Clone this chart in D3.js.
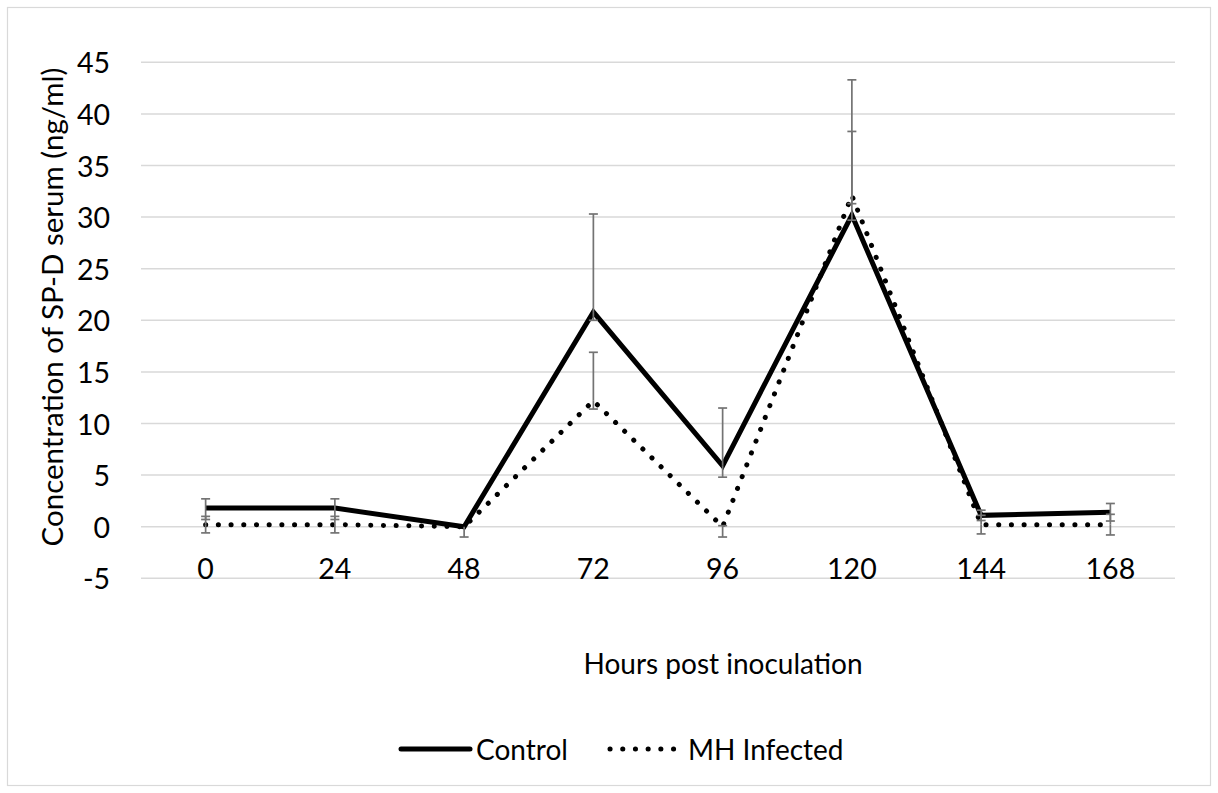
<!DOCTYPE html>
<html>
<head>
<meta charset="utf-8">
<script src="https://cdn.jsdelivr.net/npm/d3@7"></script>
<style>
  html, body { margin: 0; padding: 0; background: #fff; }
  svg { display: block; }
  text { font-family: Lato, "Liberation Sans", sans-serif; fill: #000; }
</style>
</head>
<body>
<svg id="chart" width="1218" height="793"></svg>
<script>
// Serum SP-D concentration over time after inoculation
const hours = ["0", "24", "48", "72", "96", "120", "144", "168"];
const controlValues = [1.8, 1.8, 0, 20.8, 5.9, 30.2, 1.1, 1.4];
const controlErrPlus = [0.9, 0.9, 0, 9.5, 5.6, 8.1, 0.5, 0.85];
const controlErrMinus = [1.1, 1.1, 0, 0.8, 1.1, 0.5, 0.5, 0.85];
const infectedValues = [0.2, 0.2, 0, 12.2, 0, 32.1, 0.2, 0.2];
const infectedErrPlus = [0.8, 0.8, 0, 4.7, 0.1, 11.2, 0.9, 1.0];
const infectedErrMinus = [0.8, 0.8, 1.0, 0.8, 1.0, 0.8, 0.9, 1.0];
const yTicks = [-5, 0, 5, 10, 15, 20, 25, 30, 35, 40, 45];
const seriesNames = ["Control", "MH Infected"];

const svg = d3.select("#chart");

// outer chart frame
svg.append("rect")
  .attr("x", 7.5).attr("y", 7.5)
  .attr("width", 1203).attr("height", 778)
  .attr("fill", "#fff").attr("stroke", "#d9d9d9").attr("stroke-width", 1.2);

const x = d3.scaleBand().domain(hours).range([141, 1175]);
const y = d3.scaleLinear().domain([-5, 45]).range([578.3, 62.3]);
const cx = h => x(h) + x.bandwidth() / 2;

// horizontal gridlines
svg.append("g").selectAll("line").data(yTicks).join("line")
  .attr("x1", 141).attr("x2", 1175)
  .attr("y1", d => y(d)).attr("y2", d => y(d))
  .attr("stroke", "#d9d9d9").attr("stroke-width", 1.5);

// y tick labels
svg.append("g").selectAll("text").data(yTicks).join("text")
  .attr("x", 110).attr("y", d => y(d))
  .attr("text-anchor", "end").attr("dominant-baseline", "central")
  .attr("font-size", 28.5)
  .text(d => d);

// x tick labels
svg.append("g").selectAll("text").data(hours).join("text")
  .attr("x", d => cx(d)).attr("y", 579)
  .attr("text-anchor", "middle")
  .attr("font-size", 28.5)
  .text(d => d);

// axis titles
svg.append("text")
  .attr("transform", "translate(63,307) rotate(-90)")
  .attr("text-anchor", "middle")
  .attr("font-size", 29.5)
  .text("Concentration of SP-D serum (ng/ml)");

svg.append("text")
  .attr("x", 723).attr("y", 674)
  .attr("text-anchor", "middle")
  .attr("font-size", 28)
  .text("Hours post inoculation");

const line = d3.line().x((d, i) => cx(hours[i])).y(d => y(d));

// series lines
svg.append("path")
  .datum(controlValues)
  .attr("d", line)
  .attr("fill", "none").attr("stroke", "#000")
  .attr("stroke-width", 5).attr("stroke-linejoin", "miter");

svg.append("path")
  .datum(infectedValues)
  .attr("d", line)
  .attr("fill", "none").attr("stroke", "#000")
  .attr("stroke-width", 5).attr("stroke-linecap", "round")
  .attr("stroke-dasharray", "0.1 12.6");

// error bars
function errorBars(values, plus, minus) {
  const g = svg.append("g").attr("stroke", "#737373").attr("stroke-width", 1.7);
  values.forEach((v, i) => {
    const px = cx(hours[i]);
    const top = v + plus[i], bot = v - minus[i];
    if (plus[i] > 0) {
      g.append("line").attr("x1", px).attr("x2", px).attr("y1", y(v)).attr("y2", y(top));
      g.append("line").attr("x1", px - 4.5).attr("x2", px + 4.5).attr("y1", y(top)).attr("y2", y(top));
    }
    if (minus[i] > 0) {
      g.append("line").attr("x1", px).attr("x2", px).attr("y1", y(v)).attr("y2", y(bot));
      g.append("line").attr("x1", px - 4.5).attr("x2", px + 4.5).attr("y1", y(bot)).attr("y2", y(bot));
    }
  });
}
errorBars(controlValues, controlErrPlus, controlErrMinus);
errorBars(infectedValues, infectedErrPlus, infectedErrMinus);

// legend
const legend = svg.append("g");
legend.append("line")
  .attr("x1", 401).attr("x2", 470).attr("y1", 749).attr("y2", 749)
  .attr("stroke", "#000").attr("stroke-width", 5).attr("stroke-linecap", "round");
legend.append("text")
  .attr("x", 476).attr("y", 749).attr("dominant-baseline", "central")
  .attr("font-size", 28).text(seriesNames[0]);
legend.append("line")
  .attr("x1", 610).attr("x2", 674).attr("y1", 749).attr("y2", 749)
  .attr("stroke", "#000").attr("stroke-width", 5).attr("stroke-linecap", "round")
  .attr("stroke-dasharray", "0.1 12.6");
legend.append("text")
  .attr("x", 688).attr("y", 749).attr("dominant-baseline", "central")
  .attr("font-size", 28).text(seriesNames[1]);
</script>
</body>
</html>
